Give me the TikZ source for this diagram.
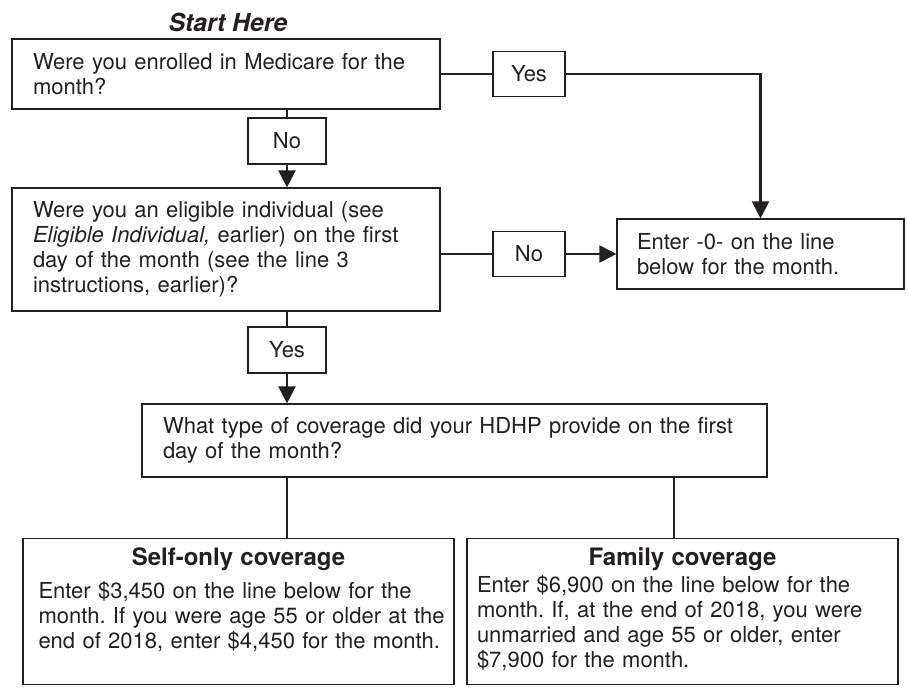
\documentclass[tikz,border=0pt]{standalone}
\usepackage{fontspec}
\setmainfont{TeX Gyre Heros}
\usetikzlibrary{arrows.meta}
\definecolor{ink}{RGB}{35,31,32}
\setlength{\parindent}{0pt}
\frenchspacing

\begin{document}
\begin{tikzpicture}[>={Triangle[length=8.5pt,width=8.5pt]},x=0.5pt,y=-0.5pt,color=ink]
                \tikzstyle{every node}=[font=\fontsize{11}{12.5}\selectfont,text=ink]
                \tikzstyle{qbox}=[draw,line width=0.6pt,align=left]
                \tikzstyle{tag}=[draw,line width=0.6pt,inner sep=0pt,minimum height=22.5pt]
                \tikzstyle{wire}=[line width=1.1pt]
                \useasboundingbox (0,0) rectangle (908,687);
                \node (start) at (228,22) {\fontsize{12.4}{14}\selectfont\bfseries\itshape Start Here};
                \node[qbox,text width=193pt,inner xsep=10.5pt,minimum height=35pt] (medicare) at (226,74) {Were you enrolled in Medicare for the\\month?};
                \node[qbox,text width=193pt,inner xsep=10.5pt,minimum height=61.5pt] (eligible) at (226,249.5) {Were you an eligible individual (see\\\textit{Eligible Individual,} earlier) on the first\\day of the month (see the line 3\\instructions, earlier)?};
                \node[qbox,text width=123.5pt,inner xsep=10pt,minimum height=35pt] (zero) at (760.5,254) {Enter -0- on the line\\below for the month.};
                \node[qbox,text width=291.5pt,inner xsep=10.5pt,minimum height=36.5pt] (hdhp) at (454.5,440.5) {What type of coverage did your HDHP provide on the first\\day of the month?};
                \node[qbox,anchor=north,text width=200pt,inner xsep=7.75pt,inner ysep=4.5pt,text height=9pt,text depth=55pt] (selfonly) at (238.5,538) {{\centering\fontsize{12}{12.5}\selectfont\bfseries Self-only coverage\par}\vspace{4pt}\mbox{Enter \$3,450 on the line below for the}\\\mbox{month. If you were age 55 or older at the}\\\mbox{end of 2018, enter \$4,450 for the month.}};
                \node[qbox,anchor=north,text width=205.5pt,inner xsep=5pt,inner ysep=4.5pt,text height=9pt,text depth=55pt] (family) at (682.5,538) {{\centering\fontsize{12}{12.5}\selectfont\bfseries Family coverage\par}\vspace{1pt}Enter \$6,900 on the line below for the\\month. If, at the end of 2018, you were\\unmarried and age 55 or older, enter\\\$7,900 for the month.};
                \node[tag,minimum width=36pt] (yes1) at (529,74) {Yes};
                \node[tag,minimum width=39pt,minimum height=23pt] (no1) at (287,141) {No};
                \node[tag,minimum width=36pt] (no2) at (529,254) {No};
                \node[tag,minimum width=39pt,minimum height=23pt] (yes2) at (287,350) {Yes};
                \coordinate (famdrop) at (674,500);
                % Medicare question
                \draw[wire] (medicare.east) -- (yes1.west);
                \draw[wire,->] (yes1.east) -- (yes1.east -| zero.north) -- (zero.north);
                \draw[wire] (medicare.south -| no1) -- (no1.north);
                \draw[wire,->] (no1.south) -- (no1.south |- eligible.north);
                % eligible individual
                \draw[wire] (no2.west -| eligible.east) -- (no2.west);
                \draw[wire,->] (no2.east) -- (zero.west);
                \draw[wire] (eligible.south -| yes2) -- (yes2.north);
                \draw[wire,->] (yes2.south) -- (yes2.south |- hdhp.north);
                % coverage type
                \draw[wire] (hdhp.south -| yes2) -- (yes2 |- selfonly.north);
                \draw[wire] (hdhp.south -| famdrop) -- (famdrop |- family.north);
            \end{tikzpicture}
\end{document}
